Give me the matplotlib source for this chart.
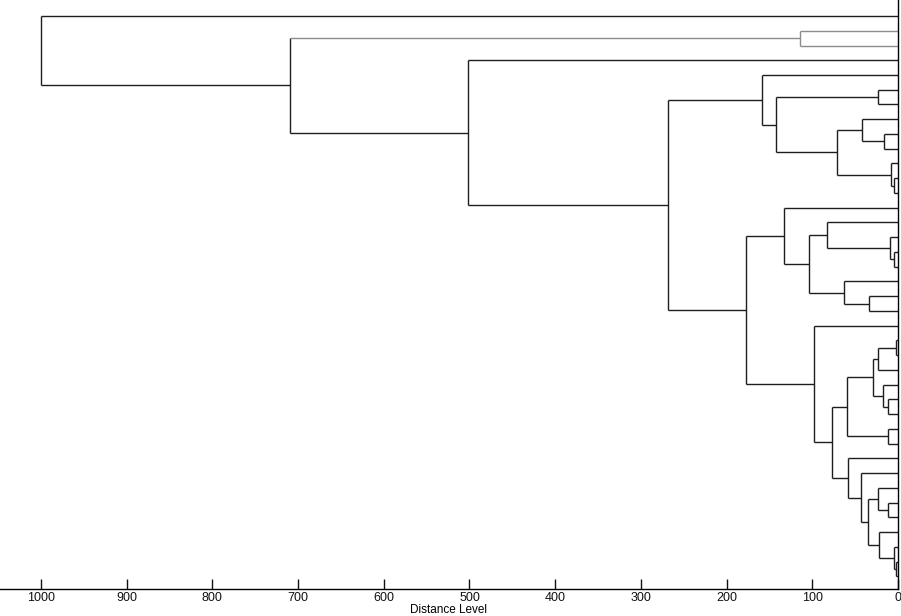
import matplotlib
matplotlib.use("Agg")
import matplotlib.pyplot as plt
import numpy as np

# leaves are numbered top to bottom, 0..38
n_leaves = 39

# merges: (left child, right child, distance); ids >= n_leaves are earlier merges
merge_left = [1, 5, 8, 7, 11, 10, 42, 40, 4, 16, 15, 14, 19, 18, 50, 13,
              22, 55, 26, 25, 56, 28, 59, 33, 32, 37, 36, 35, 63, 31, 30,
              61, 21, 54, 47, 3, 39, 0]
merge_right = [2, 6, 9, 41, 12, 43, 44, 45, 46, 17, 48, 49, 20, 51, 52, 53,
               23, 24, 27, 57, 58, 29, 60, 34, 62, 38, 64, 65, 66, 67, 68,
               69, 70, 71, 72, 73, 74, 75]
merge_dist = [114, 23, 16, 42, 5, 8, 71, 142, 159, 4.5, 9, 83, 34, 63, 104,
              133, 2.5, 23, 12, 17.5, 29, 12, 59.5, 12, 23, 2.5, 5, 22, 35,
              43, 58, 77, 98, 177, 268, 502, 709, 1000]

# the small outlying cluster drawn in grey
grey_ids = {1, 2, 39}

dist_ticks = list(range(0, 1001, 100))

dark = '#1e1e1e'
grey = '#8c8c8c'

fig = plt.figure(figsize=(9.01, 6.16), dpi=100)
ax = fig.add_axes([0, 27 / 616, 898 / 901, 589 / 616])

# positions and heights of every node
ypos = {i: float(i) for i in range(n_leaves)}
hgt = {i: 0.0 for i in range(n_leaves)}
for k in range(len(merge_dist)):
    node = n_leaves + k
    a, b, d = merge_left[k], merge_right[k], merge_dist[k]
    ypos[node] = (ypos[a] + ypos[b]) / 2
    hgt[node] = d
    col = grey if node in grey_ids else dark
    ax.plot([d, d], [ypos[a], ypos[b]], color=col, lw=1.0,
            solid_capstyle='butt')
    for c in (a, b):
        ccol = grey if c in grey_ids else dark
        ax.plot([hgt[c], d], [ypos[c], ypos[c]], color=ccol, lw=1.0,
                solid_capstyle='butt')

ax.set_xlim(1047.8, 0)
ax.set_ylim(38.85, -1.085)

ax.spines['top'].set_visible(False)
ax.spines['left'].set_visible(False)
ax.spines['right'].set_linewidth(1.0)
ax.spines['bottom'].set_linewidth(1.0)

ax.set_yticks([])
ax.set_xticks(dist_ticks)
ax.set_xticklabels([str(t) for t in dist_ticks], family='Liberation Sans',
                   fontsize=9)
ax.tick_params(axis='x', direction='in', length=7.5, width=1.0, pad=2.5,
               colors='#111111')
ax.set_xlabel('Distance Level', family='Liberation Sans', fontsize=8.5,
              labelpad=-0.5)

fig.savefig('out.png', dpi=100)
